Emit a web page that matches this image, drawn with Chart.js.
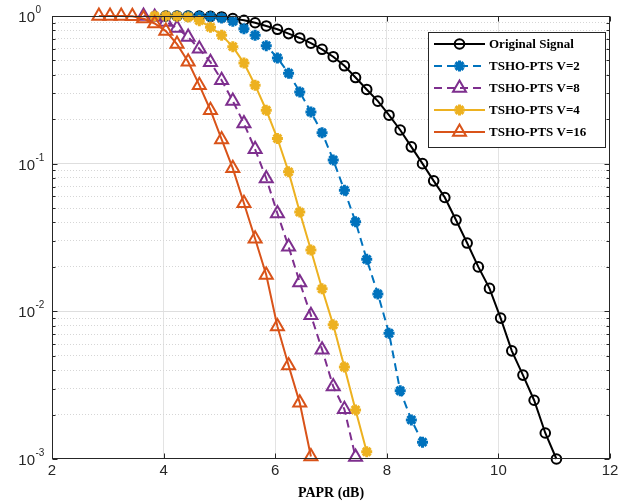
<!DOCTYPE html>
<html>
<head>
<meta charset="utf-8">
<script src="https://cdn.jsdelivr.net/npm/chart.js@4/dist/chart.umd.min.js"></script>
<style>
html,body{margin:0;padding:0;background:#fff;}
#wrap{width:631px;height:502px;position:relative;}
</style>
</head>
<body>
<div id="wrap"><canvas id="c" width="631" height="502"></canvas></div>
<script>
// ---------- data ----------
const xTickLabels = [2, 4, 6, 8, 10, 12];
const yDecades = [1, 0.1, 0.01, 0.001];
const seriesLabels = ['Original Signal', 'TSHO-PTS V=2', 'TSHO-PTS V=8', 'TSHO-PTS V=4', 'TSHO-PTS V=16'];

const xOriginal = [4.04,4.24,4.44,4.64,4.84,5.04,5.24,5.44,5.64,5.84,6.04,6.24,6.44,6.64,6.84,7.04,7.24,7.44,7.64,7.84,8.04,8.24,8.44,8.64,8.84,9.04,9.24,9.44,9.64,9.84,10.04,10.24,10.44,10.64,10.84,11.04];
const yOriginal = [1.0,1.0,1.0,1.0,0.995,0.985,0.96,0.935,0.90,0.856,0.813,0.76,0.71,0.655,0.595,0.53,0.46,0.383,0.318,0.265,0.213,0.169,0.130,0.100,0.0765,0.059,0.0415,0.029,0.020,0.0143,0.009,0.0054,0.0037,0.0025,0.0015,0.001];

const xV2 = [4.04,4.24,4.44,4.64,4.84,5.04,5.24,5.44,5.64,5.84,6.04,6.24,6.44,6.64,6.84,7.04,7.24,7.44,7.64,7.84,8.04,8.24,8.44,8.64];
const yV2 = [1.0,1.0,1.0,0.995,0.99,0.97,0.92,0.82,0.74,0.63,0.52,0.41,0.306,0.224,0.162,0.106,0.066,0.0404,0.0225,0.0131,0.0071,0.0029,0.00184,0.0013];

const xV8 = [3.64,3.84,4.04,4.24,4.44,4.64,4.84,5.04,5.24,5.44,5.64,5.84,6.04,6.24,6.44,6.64,6.84,7.04,7.24,7.44];
const yV8 = [1.0,0.985,0.91,0.83,0.72,0.60,0.487,0.367,0.266,0.187,0.125,0.0794,0.046,0.0274,0.0157,0.0094,0.0055,0.0031,0.00217,0.00103];

const xV4 = [3.84,4.04,4.24,4.44,4.64,4.84,5.04,5.24,5.44,5.64,5.84,6.04,6.24,6.44,6.64,6.84,7.04,7.24,7.44,7.64];
const yV4 = [1.0,1.0,0.995,0.985,0.93,0.84,0.74,0.62,0.48,0.34,0.23,0.148,0.088,0.047,0.026,0.0142,0.0081,0.0042,0.00215,0.00112];

const xV16 = [2.84,3.04,3.24,3.44,3.64,3.84,4.04,4.24,4.44,4.64,4.84,5.04,5.24,5.44,5.64,5.84,6.04,6.24,6.44,6.64];
const yV16 = [1.0,1.0,1.0,0.995,0.96,0.89,0.79,0.645,0.49,0.34,0.23,0.146,0.093,0.054,0.031,0.0176,0.0079,0.0043,0.0024,0.00104];

// ---------- helpers ----------
const pts = (xs, ys) => xs.map((x, i) => ({x: x, y: ys[i]}));
const AX = '#262626';
const isDecade = v => Math.abs(Math.log10(v) - Math.round(Math.log10(v))) < 1e-6;

const styles = [
  {color:'#000000', dash:[], pointStyle:'circle', r:4.8, pbw:2, order:4},
  {color:'#0072BD', dash:[8,5], pointStyle:'star', r:5.5, pbw:3, order:3},
  {color:'#7E2F8E', dash:[8,5], pointStyle:'triangle', r:7.5, pbw:2, order:2},
  {color:'#EDB120', dash:[], pointStyle:'star', r:5.5, pbw:3, order:1},
  {color:'#D95319', dash:[], pointStyle:'triangle', r:7.5, pbw:2, order:0}
];
const seriesData = [pts(xOriginal,yOriginal), pts(xV2,yV2), pts(xV8,yV8), pts(xV4,yV4), pts(xV16,yV16)];

const datasets = seriesData.map((d, i) => ({
  label: seriesLabels[i],
  data: d,
  borderColor: styles[i].color,
  backgroundColor: 'rgba(0,0,0,0)',
  borderWidth: 2,
  borderDash: styles[i].dash,
  pointStyle: styles[i].pointStyle,
  pointRadius: styles[i].r,
  pointBorderWidth: styles[i].pbw,
  pointBorderColor: styles[i].color,
  pointBackgroundColor: 'rgba(0,0,0,0)',
  tension: 0,
  fill: false,
  clip: false,
  order: styles[i].order
}));

function drawMarker(ctx, style, r, x, y, color, lw) {
  ctx.save();
  ctx.strokeStyle = color; ctx.lineWidth = lw; ctx.setLineDash([]);
  ctx.beginPath();
  if (style === 'circle') {
    ctx.arc(x, y, r, 0, Math.PI * 2);
  } else if (style === 'triangle') {
    for (let k = 0; k < 3; k++) {
      const a = k * 2 * Math.PI / 3;
      const px = x + Math.sin(a) * r, py = y - Math.cos(a) * r;
      if (k === 0) ctx.moveTo(px, py); else ctx.lineTo(px, py);
    }
    ctx.closePath();
  } else {
    for (let k = 0; k < 4; k++) {
      const a = k * Math.PI / 4;
      ctx.moveTo(x + Math.cos(a) * r, y + Math.sin(a) * r);
      ctx.lineTo(x - Math.cos(a) * r, y - Math.sin(a) * r);
    }
  }
  ctx.stroke();
  ctx.restore();
}

const decorPlugin = {
  id: 'decor',
  afterDraw(chart) {
    const ctx = chart.ctx;
    const a = chart.chartArea;
    const xs = chart.scales.x, ys = chart.scales.y;
    const L = Math.round(a.left) + 0.5, R = Math.round(a.right) - 0.5;
    const T = Math.round(a.top) + 0.5, B = Math.round(a.bottom) - 0.5;
    ctx.save();
    ctx.strokeStyle = AX; ctx.lineWidth = 1; ctx.setLineDash([]);
    ctx.strokeRect(L, T, R - L, B - T);
    ctx.beginPath();
    xTickLabels.forEach(v => {
      const px = Math.round(xs.getPixelForValue(v)) + 0.5;
      ctx.moveTo(px, B); ctx.lineTo(px, B - 5);
      ctx.moveTo(px, T); ctx.lineTo(px, T + 5);
    });
    ys.ticks.forEach(t => {
      const py = Math.round(ys.getPixelForValue(t.value)) + 0.5;
      const len = isDecade(t.value) ? 5 : 3;
      ctx.moveTo(L, py); ctx.lineTo(L + len, py);
      ctx.moveTo(R, py); ctx.lineTo(R - len, py);
    });
    ctx.stroke();

    ctx.fillStyle = AX;
    yDecades.forEach(v => {
      const py = ys.getPixelForValue(v);
      const e = Math.round(Math.log10(v));
      ctx.font = '15px "Liberation Sans", Arial, sans-serif';
      ctx.textAlign = 'right'; ctx.textBaseline = 'middle';
      ctx.fillText('10', 35, py + 2);
      ctx.font = '10px "Liberation Sans", Arial, sans-serif';
      ctx.textAlign = 'left'; ctx.textBaseline = 'alphabetic';
      ctx.fillText(e === 0 ? '0' : '-' + Math.abs(e), 35.5, py - 3);
    });

    const bx = 428.5, by = 32.5, bw = 177, bh = 115;
    ctx.fillStyle = '#ffffff';
    ctx.fillRect(bx, by, bw, bh);
    ctx.strokeStyle = AX; ctx.lineWidth = 1;
    ctx.strokeRect(bx, by, bw, bh);
    chart.data.datasets.forEach((ds, i) => {
      const y = 44 + i * 22;
      const st = styles[i];
      ctx.save();
      ctx.strokeStyle = st.color; ctx.lineWidth = 2; ctx.setLineDash(st.dash);
      ctx.beginPath(); ctx.moveTo(434, y); ctx.lineTo(485, y); ctx.stroke();
      ctx.restore();
      drawMarker(ctx, st.pointStyle, st.r, 459.5, y, st.color, st.pbw);
      ctx.fillStyle = '#000';
      ctx.font = 'bold 13px "Liberation Serif", "Times New Roman", serif';
      ctx.textAlign = 'left'; ctx.textBaseline = 'middle';
      ctx.fillText(ds.label, 489, y + 1);
    });
    ctx.restore();
  }
};

new Chart(document.getElementById('c').getContext('2d'), {
  type: 'line',
  data: { datasets: datasets },
  options: {
    responsive: false,
    animation: false,
    devicePixelRatio: 1,
    layout: { padding: { left: 0, right: 21, top: 16, bottom: 0 } },
    plugins: { legend: { display: false }, tooltip: { enabled: false } },
    scales: {
      x: {
        type: 'linear', min: 2, max: 12,
        afterBuildTicks: s => { s.ticks = xTickLabels.map(v => ({value: v})); },
        afterFit: s => { s.height = 43; },
        ticks: { color: AX, font: { family: '"Liberation Sans", Arial, sans-serif', size: 15 }, padding: 3, maxRotation: 0 },
        grid: { color: c => (c.tick && (c.tick.value === 2 || c.tick.value === 12)) ? 'rgba(0,0,0,0)' : '#e3e3e3', drawTicks: false, lineWidth: 1 },
        border: { display: false },
        title: { display: true, text: 'PAPR (dB)', color: '#000',
                 font: { family: '"Liberation Serif", "Times New Roman", serif', size: 14, weight: 'bold' },
                 padding: { top: 0, bottom: 0 } }
      },
      y: {
        type: 'logarithmic', min: 0.001, max: 1,
        afterBuildTicks: s => {
          const t = [];
          [0.001, 0.01, 0.1].forEach(d => { for (let k = 1; k <= 9; k++) t.push({value: +(d * k).toPrecision(3)}); });
          t.push({value: 1});
          s.ticks = t;
        },
        afterFit: s => { s.width = 52; },
        ticks: { display: false },
        grid: {
          drawTicks: false, lineWidth: 1,
          color: c => {
            const v = c.tick ? c.tick.value : 0;
            if (v === 1 || v === 0.001) return 'rgba(0,0,0,0)';
            return isDecade(v) ? '#dedede' : '#d6d6d6';
          }
        },
        border: { display: false, dash: c => (c.tick && !isDecade(c.tick.value)) ? [1, 2] : [] }
      }
    }
  },
  plugins: [decorPlugin]
});
</script>
</body>
</html>
